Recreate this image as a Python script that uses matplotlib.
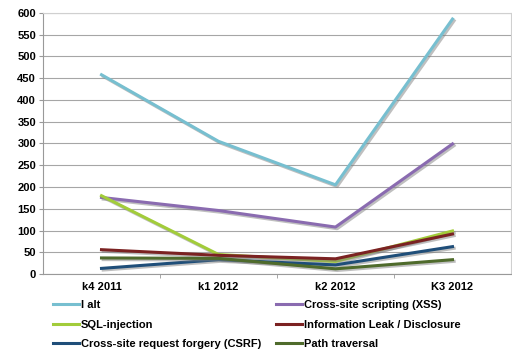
import matplotlib
matplotlib.use('Agg')
import matplotlib.pyplot as plt
import matplotlib.patheffects as pe
from matplotlib.lines import Line2D

plt.rcParams['font.family'] = ['Liberation Sans', 'DejaVu Sans']
plt.rcParams['font.weight'] = 'bold'

# quarters
quarters = ['k4 2011', 'k1 2012', 'k2 2012', 'K3 2012']

# series values
i_alt = [458, 305, 205, 586]
xss = [176, 146, 108, 299]
sql = [180, 45, 29, 99]
info_leak = [56, 43, 35, 92]
csrf = [13, 33, 21, 63]
path_trav = [37, 36, 12, 33]

names = ['I alt', 'Cross-site scripting (XSS)', 'SQL-injection',
         'Information Leak / Disclosure', 'Cross-site request forgery (CSRF)',
         'Path traversal']
colors = ['#77bfd0', '#8a6bb0', '#a2cc3a', '#7b2222', '#1f4e79', '#4f6b2c']
series = [i_alt, xss, sql, info_leak, csrf, path_trav]

fig = plt.figure(figsize=(5.12, 3.5), dpi=100)
ax = fig.add_axes([0.084, 0.217, 0.914, 0.746])

x = list(range(len(quarters)))
shadow = [pe.SimpleLineShadow(offset=(1.2, -1.2), shadow_color='gray', alpha=0.5), pe.Normal()]
for vals, name, c in zip(series, names, colors):
    ax.plot(x, vals, color=c, lw=2.2, path_effects=shadow)

ax.set_xlim(-0.5, 3.5)
ax.set_ylim(0, 600)
ax.set_yticks(range(0, 601, 50))
ax.set_xticks(x)
ax.set_xticklabels(quarters)
ax.set_xticks([0.5, 1.5, 2.5], minor=True)
ax.tick_params(axis='x', which='major', length=0, labelsize=8, pad=6)
ax.tick_params(axis='x', which='minor', length=3, color='#999999')
ax.tick_params(axis='y', length=3, color='#999999', labelsize=8, pad=2)
ax.grid(axis='y', color='#a6a6a6', lw=0.8)
ax.set_axisbelow(True)
for s in ['top', 'right']:
    ax.spines[s].set_color('#d0d0d0')
for s in ['left', 'bottom']:
    ax.spines[s].set_color('#999999')

# legend filled row by row, like the original
handles = [Line2D([], [], color=c, lw=2.2) for c in colors]
order = [0, 2, 4, 1, 3, 5]
fig.legend([handles[i] for i in order], [names[i] for i in order],
           loc='upper left', bbox_to_anchor=(0.103, 0.142),
           ncol=2, frameon=False, fontsize=8, handlelength=2.4, handletextpad=0.1,
           columnspacing=1.35, labelspacing=0.85, borderpad=0, borderaxespad=0)

fig.savefig('out.png', dpi=100)
